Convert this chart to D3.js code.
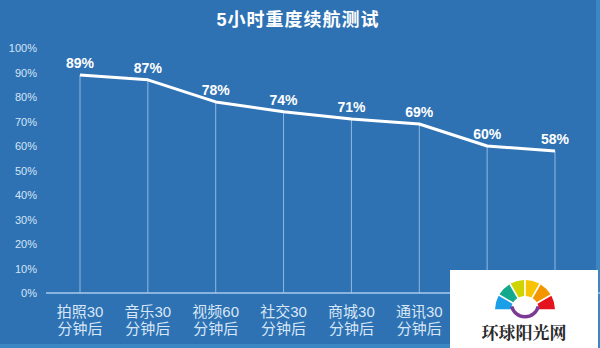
<!DOCTYPE html>
<html>
<head>
<meta charset="utf-8">
<script src="https://cdn.jsdelivr.net/npm/d3@7"></script>
<style>
  html, body { margin: 0; padding: 0; background: #3b86c3; }
  svg { display: block; }
</style>
</head>
<body>
<svg id="chart" width="600" height="348"></svg>
<script>
// Battery remaining after each usage stage (last two stage names sit under the site badge)
const categories = [
  ["拍照30", "分钟后"],
  ["音乐30", "分钟后"],
  ["视频60", "分钟后"],
  ["社交30", "分钟后"],
  ["商城30", "分钟后"],
  ["通讯30", "分钟后"],
  ["", ""],
  ["", ""]
];
const values = [89, 87, 78, 74, 71, 69, 60, 58];
const yTicks = [0, 10, 20, 30, 40, 50, 60, 70, 80, 90, 100];
const title = "5小时重度续航测试";
const fanColors = ["#1b9fe6", "#13a98c", "#cfd400", "#f8c300", "#f49600", "#e5131d"];

const svg = d3.select("#chart");
const W = 600, H = 348;
const font = "'Liberation Sans', 'Noto Sans CJK SC', sans-serif";

// panel background with a lighter frame along right and bottom edges
svg.append("rect").attr("width", W).attr("height", H).attr("fill", "#3b87c4");
svg.append("rect").attr("x", 0).attr("y", 0).attr("width", 596).attr("height", 344).attr("fill", "#2e72b4");

const x = d3.scalePoint().domain(d3.range(values.length)).range([80, 555]);
const y = d3.scaleLinear().domain([0, 100]).range([293, 48]);

// title
svg.append("text")
  .attr("x", 298).attr("y", 26)
  .attr("text-anchor", "middle")
  .attr("font-family", font).attr("font-weight", "bold")
  .attr("font-size", 18).attr("fill", "#ffffff")
  .attr("letter-spacing", 1)
  .text(title);

// y axis labels
const yAxis = d3.axisLeft(y).tickValues(yTicks).tickSize(0).tickPadding(0)
  .tickFormat(d => d + "%");
const yg = svg.append("g").attr("transform", "translate(37,0)").call(yAxis);
yg.select(".domain").remove();
yg.selectAll("text")
  .attr("font-family", font).attr("font-size", 11)
  .attr("fill", "#d5e5f5");

// drop lines from each point to the baseline
svg.append("g").selectAll("line").data(values).join("line")
  .attr("x1", (d, i) => x(i)).attr("x2", (d, i) => x(i))
  .attr("y1", d => y(d)).attr("y2", y(0))
  .attr("stroke", "#a9cbee").attr("stroke-opacity", 0.8).attr("stroke-width", 1);

// baseline
svg.append("line")
  .attr("x1", 46).attr("x2", 600).attr("y1", y(0)).attr("y2", y(0))
  .attr("stroke", "#a7cdee").attr("stroke-width", 1.5);

// x labels
const xl = svg.append("g").selectAll("text").data(categories.filter(c => c[0])).join("text")
  .attr("x", (d, i) => x(i))
  .attr("text-anchor", "middle")
  .attr("font-family", font).attr("font-size", 15)
  .attr("fill", "#d8e7f6");
xl.append("tspan").attr("x", (d, i) => x(i)).attr("y", 317).text(d => d[0]);
xl.append("tspan").attr("x", (d, i) => x(i)).attr("y", 334).text(d => d[1]);

// data line
const line = d3.line().x((d, i) => x(i)).y(d => y(d));
svg.append("path").datum(values)
  .attr("d", line).attr("fill", "none")
  .attr("stroke", "#ffffff").attr("stroke-width", 3)
  .attr("stroke-linejoin", "round");

// value labels
svg.append("g").selectAll("text").data(values).join("text")
  .attr("x", (d, i) => x(i)).attr("y", d => y(d) - 7)
  .attr("text-anchor", "middle")
  .attr("font-family", font).attr("font-weight", "bold")
  .attr("font-size", 14).attr("fill", "#ffffff")
  .text(d => d + "%");

// site badge in the lower right corner
const badge = svg.append("g");
badge.append("rect").attr("x", 450).attr("y", 270).attr("width", 148).attr("height", 78).attr("fill", "#ffffff");
const cx = 525, cy = 310;
const fan = d3.arc().innerRadius(14).outerRadius(30).padAngle(0.05);
const step = Math.PI / fanColors.length;
badge.append("g").attr("transform", `translate(${cx},${cy})`)
  .selectAll("path").data(fanColors).join("path")
  .attr("d", (c, i) => fan({ startAngle: -Math.PI / 2 + i * step, endAngle: -Math.PI / 2 + (i + 1) * step }))
  .attr("fill", c => c);
badge.append("path")
  .attr("transform", `translate(${cx},${cy - 7})`)
  .attr("d", d3.arc().innerRadius(12).outerRadius(15.5)({ startAngle: Math.PI / 2 + 0.25, endAngle: Math.PI * 1.5 - 0.25 }))
  .attr("fill", "#7b3a96");
badge.append("text")
  .attr("x", 524).attr("y", 339)
  .attr("text-anchor", "middle")
  .attr("font-family", "'Noto Serif CJK SC', 'Noto Sans CJK SC', serif")
  .attr("font-weight", "bold").attr("font-size", 17)
  .attr("fill", "#2a2a2a")
  .text("环球阳光网");
</script>
</body>
</html>
